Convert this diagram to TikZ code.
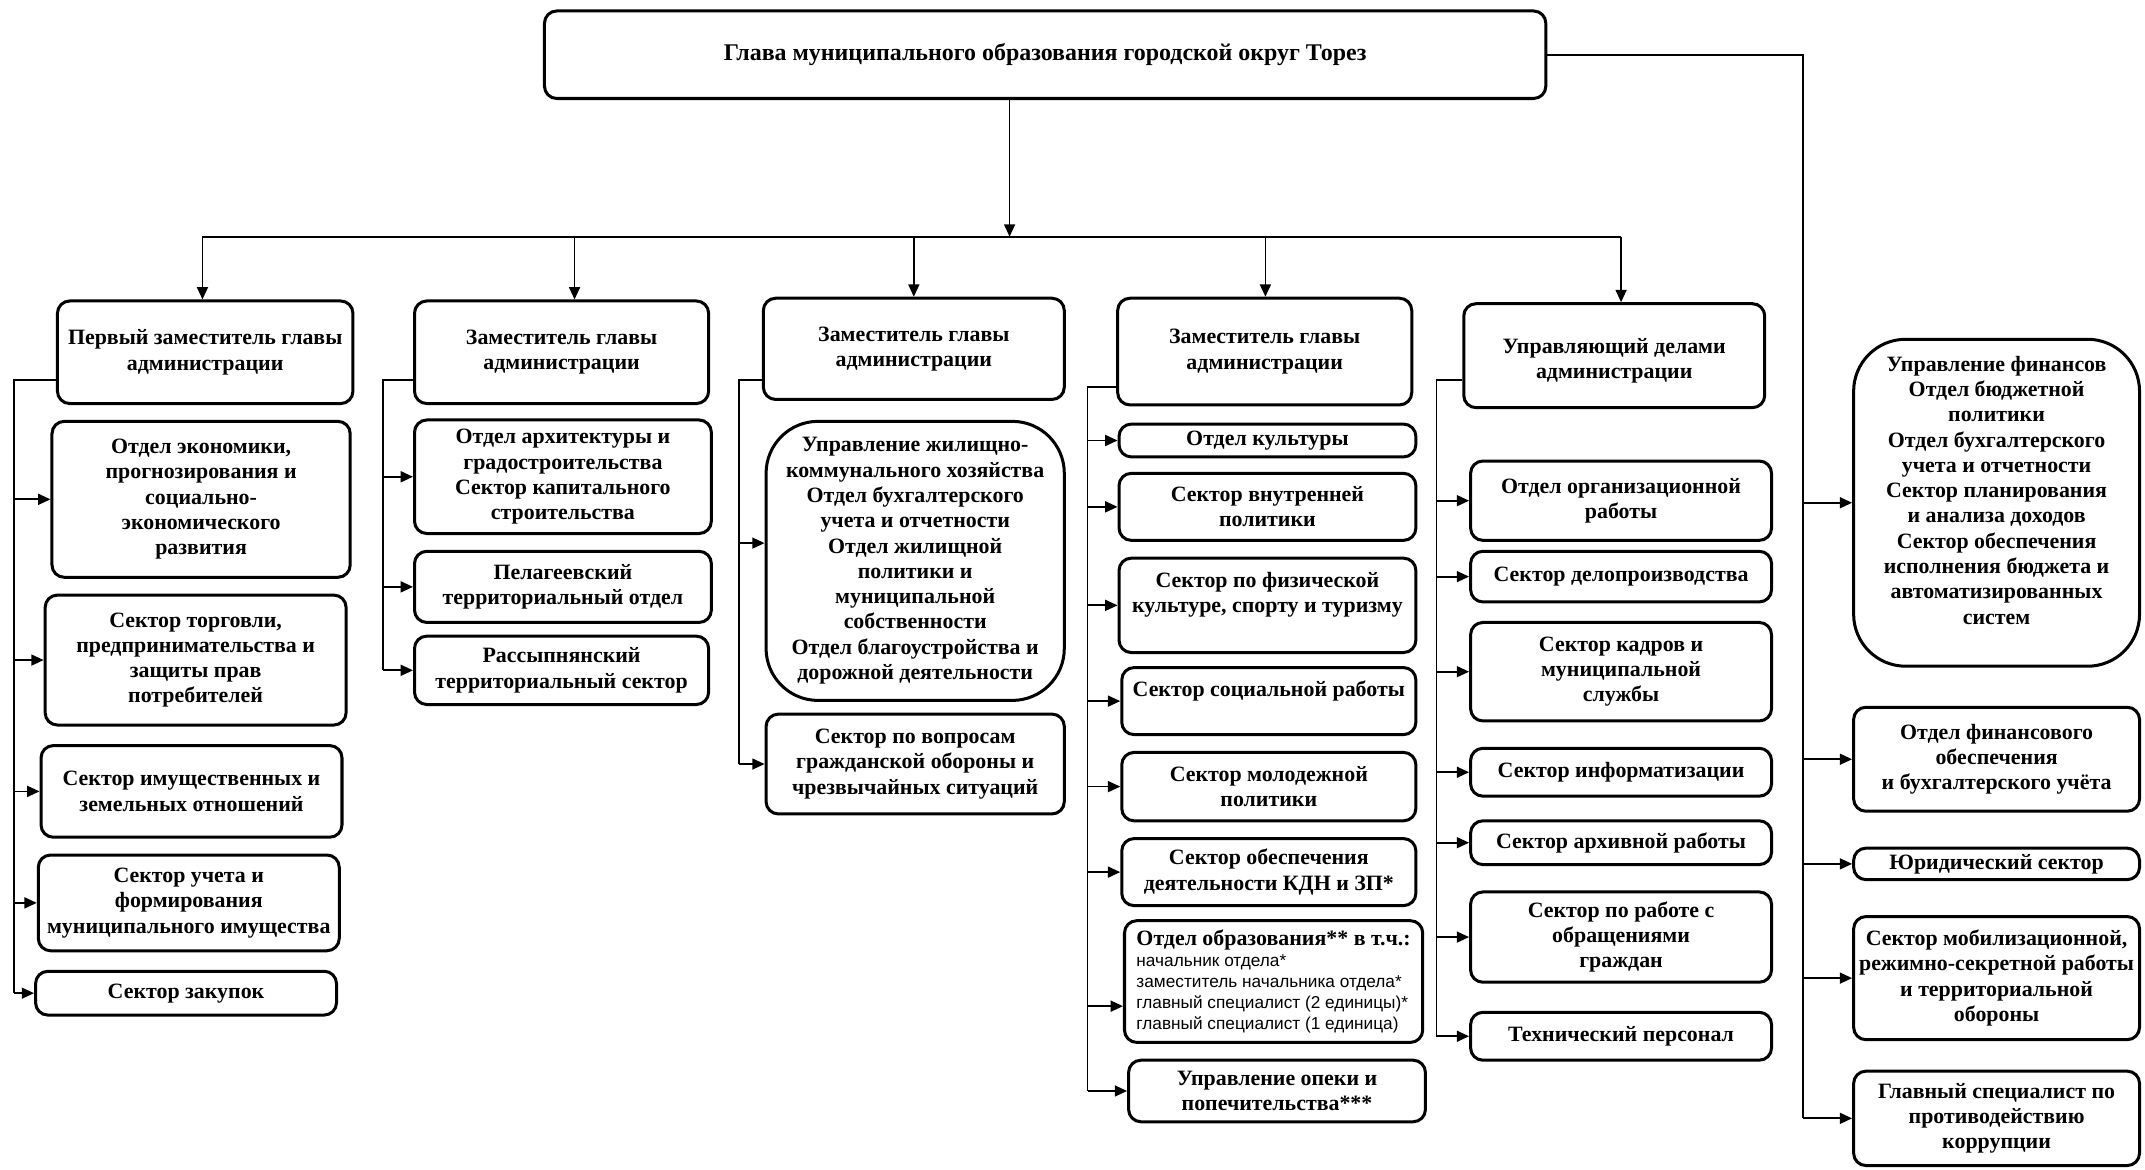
\documentclass[tikz,border=0pt]{standalone}
\usepackage{fontspec}
\setmainfont{Liberation Serif}
\newfontfamily\smallsans{Liberation Sans}
\usetikzlibrary{arrows.meta}
\tikzset{
  box/.style={draw, line width=2.2pt, rounded corners=9pt, align=center, inner sep=2pt,
    font=\fontsize{16}{18.5}\selectfont\bfseries},
  bigbox/.style={rounded corners=38pt},
  conn/.style={line width=1.3pt},
  arr/.style={conn, -{Triangle[length=9pt,width=8pt]}},
}
\newcommand\bx[7][]{\node[box,minimum width={#5-#3},minimum height={#6-#4},#1] (#2) at ({(#3+#5)/2},{(#4+#6)/2}) {#7};}
\begin{document}
\begin{tikzpicture}[x=1pt,y=-1pt]
\useasboundingbox (0,0) rectangle (1568,855);
\fill[white] (0,0) rectangle (1568,855);

% top
\bx[font=\fontsize{17.5}{20}\selectfont\bfseries]{top}{398}{8}{1130}{72}{Глава муниципального образования городской округ Торез}

% column 1
\bx{n1}{42}{220}{258}{295}{Первый заместитель главы\\администрации}
\bx{a1}{38}{308}{256}{422}{Отдел экономики,\\прогнозирования и\\социально-\\экономического\\развития}
\bx{a2}{33}{435}{253}{530}{Сектор торговли,\\предпринимательства и\\защиты прав\\потребителей}
\bx{a3}{30}{545}{250}{612}{Сектор имущественных и\\земельных отношений}
\bx{a4}{28}{625}{248}{695}{Сектор учета и\\формирования\\муниципального имущества}
\bx{a5}{26}{710}{246}{742}{Сектор закупок}

% column 2
\bx{n2}{303}{220}{518}{295}{Заместитель главы\\администрации}
\bx{b1}{303}{307}{520}{390}{Отдел архитектуры и\\градостроительства\\Сектор капитального\\строительства}
\bx{b2}{303}{403}{520}{455}{Пелагеевский\\территориальный отдел}
\bx{b3}{303}{465}{518}{515}{Рассыпнянский\\территориальный сектор}

% column 3
\bx{n3}{558}{218}{778}{292}{\mbox{}\\[-8pt]Заместитель главы\\администрации}
\bx[bigbox]{c1}{560}{308}{778}{512}{Управление жилищно-\\коммунального хозяйства\\Отдел бухгалтерского\\учета и отчетности\\Отдел жилищной\\политики и\\муниципальной\\собственности\\Отдел благоустройства и\\дорожной деятельности}
\bx{c2}{560}{522}{778}{595}{Сектор по вопросам\\гражданской обороны и\\чрезвычайных ситуаций}

% column 4
\bx{n4}{817}{218}{1032}{296}{Заместитель главы\\администрации}
\bx{d1}{818}{310}{1035}{334}{Отдел культуры}
\bx{d2}{818}{346}{1035}{395}{Сектор внутренней\\политики}
\bx{d3}{818}{408}{1035}{477}{Сектор по физической\\культуре, спорту и туризму\\\mbox{}}
\bx{d4}{820}{488}{1035}{537}{Сектор социальной работы\\\mbox{}}
\bx{d5}{820}{550}{1035}{600}{Сектор молодежной\\политики}
\bx{d6}{820}{613}{1035}{662}{Сектор обеспечения\\деятельности КДН и ЗП*}
\bx[align=left,font=\smallsans\fontsize{12.6}{15.3}\selectfont]{d7}{822}{673}{1040}{762}{{\rmfamily\bfseries\fontsize{16}{18.5}\selectfont Отдел образования** в т.ч.:}\\начальник отдела*\\заместитель начальника отдела*\\главный специалист (2 единицы)*\\главный специалист (1 единица)}
\bx{d8}{825}{775}{1042}{820}{Управление опеки и\\попечительства***}

% column 5
\bx{n5}{1070}{222}{1290}{298}{\mbox{}\\Управляющий делами\\администрации}
\bx{e1}{1075}{337}{1295}{395}{Отдел организационной\\работы}
\bx{e2}{1075}{403}{1295}{440}{Сектор делопроизводства}
\bx{e3}{1075}{455}{1295}{527}{Сектор кадров и\\муниципальной\\службы}
\bx{e4}{1075}{547}{1295}{582}{Сектор информатизации}
\bx{e5}{1075}{600}{1295}{632}{Сектор архивной работы}
\bx{e6}{1075}{652}{1295}{718}{Сектор по работе с\\обращениями\\граждан}
\bx{e7}{1075}{740}{1295}{775}{Технический персонал}

% column 6
\bx[bigbox]{f1}{1355}{248}{1564}{487}{Управление финансов\\Отдел бюджетной\\политики\\Отдел бухгалтерского\\учета и отчетности\\Сектор планирования\\и анализа доходов\\Сектор обеспечения\\исполнения бюджета и\\автоматизированных\\систем\\\mbox{}}
\bx{f2}{1355}{517}{1564}{593}{Отдел финансового\\обеспечения\\и бухгалтерского учёта}
\bx{f3}{1355}{620}{1564}{643}{Юридический сектор}
\bx{f4}{1355}{670}{1564}{760}{Сектор мобилизационной,\\режимно-секретной работы\\и территориальной\\обороны}
\bx{f5}{1355}{783}{1564}{852}{Главный специалист по\\противодействию\\коррупции}

% main bus
\coordinate (bus) at (738,173);
\coordinate (busL) at (148,173);
\coordinate (bus2) at (420,173);
\coordinate (bus3) at (668,173);
\coordinate (bus4) at (925,173);
\coordinate (busR) at (1185,173);
\draw[arr] (bus |- top.south) -- (bus);
\draw[conn] (busL) -- (busR);
\draw[arr] (busL) -- (busL |- n1.north);
\draw[arr] (bus2) -- (bus2 |- n2.north);
\draw[arr] (bus3) -- (bus3 |- n3.north);
\draw[arr] (bus4) -- (bus4 |- n4.north);
\draw[arr] (busR) -- (busR |- n5.north);

% right spine
\coordinate (sp) at (1318,40);
\draw[conn] (top.east) -- (sp) -- (sp |- f5.west);
\foreach \b in {f1,f2,f3,f4,f5} \draw[arr] (sp |- \b.west) -- (\b.west);

% column 1 spine
\coordinate (k1) at (10,278);
\draw[conn] (n1.west |- k1) -- (k1) -- (k1 |- a5.west);
\foreach \b in {a1,a2,a3,a4,a5} \draw[arr] (k1 |- \b.west) -- (\b.west);

% column 2 spine
\coordinate (k2) at (280,278);
\draw[conn] (n2.west |- k2) -- (k2) -- (k2 |- b3.west);
\foreach \b in {b1,b2,b3} \draw[arr] (k2 |- \b.west) -- (\b.west);

% column 3 spine
\coordinate (k3) at (540,278);
\coordinate (c1in) at ([yshift=13pt]c1.west);
\draw[conn] (n3.west |- k3) -- (k3) -- (k3 |- c2.west);
\draw[arr] (k3 |- c1in) -- (c1in);
\draw[arr] (k3 |- c2.west) -- (c2.west);

% column 4 spine
\coordinate (k4) at (795,283);
\coordinate (d7in) at ([yshift=-18pt]d7.west);
\draw[conn] (n4.west |- k4) -- (k4) -- (k4 |- d8.west);
\foreach \b in {d1,d2,d3,d4,d5,d6,d8} \draw[arr] (k4 |- \b.west) -- (\b.west);
\draw[arr] (k4 |- d7in) -- (d7in);

% column 5 spine
\coordinate (k5) at (1050,278);
\draw[conn] (n5.west |- k5) -- (k5) -- (k5 |- e7.west);
\foreach \b in {e1,e2,e3,e4,e5,e6,e7} \draw[arr] (k5 |- \b.west) -- (\b.west);
\end{tikzpicture}
\end{document}
